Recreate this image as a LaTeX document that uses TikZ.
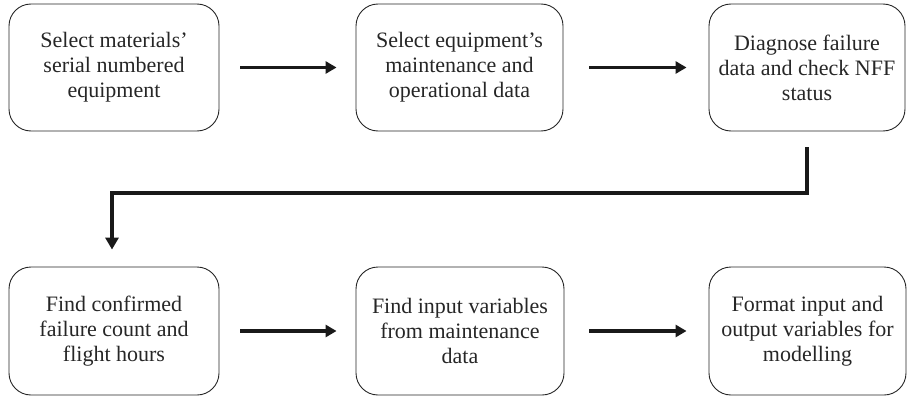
\documentclass[tikz,border=0pt]{standalone}
\usepackage{fontspec}
\setmainfont{Liberation Serif}
\usetikzlibrary{arrows.meta}
\begin{document}
\begin{tikzpicture}[x=1pt,y=-1pt,
  box/.style={draw=black!85, line width=0.9pt, rounded corners=22pt, align=center,
    minimum height=127pt, inner sep=0pt,
    font=\fontsize{22pt}{25pt}\selectfont, text=black!85},
  flow/.style={line width=3.2pt, draw=black!90, -{Triangle[length=11pt,width=12pt]}},
  conn/.style={line width=3.6pt, draw=black!90, -{Triangle[length=12pt,width=13pt]}}]
\useasboundingbox (0,0) rectangle (907,396);
\node[box, minimum width=210pt] (b1) at (114,67.5) {Select materials'\\serial numbered\\equipment};
\node[box, minimum width=207pt] (b2) at (459.5,67.5) {Select equipment's\\maintenance and\\operational data};
\node[box, minimum width=196pt] (b3) at (807,67.5) {Diagnose failure\\data and check NFF\\status};
\node[box, minimum width=210pt, minimum height=128pt] (b4) at (114,331) {Find confirmed\\failure count and\\flight hours};
\node[box, minimum width=208pt, minimum height=128pt] (b5) at (460,331) {Find input variables\\from maintenance\\data};
\node[box, minimum width=197pt, minimum height=128pt] (b6) at (807.5,331) {Format input and\\output variables for\\modelling};
\draw[flow] ([xshift=21pt]b1.east) -- ([xshift=-19pt]b2.west);
\draw[flow] ([xshift=26pt]b2.east) -- ([xshift=-22pt]b3.west);
\draw[flow] ([xshift=21pt]b4.east) -- ([xshift=-19pt]b5.west);
\draw[flow] ([xshift=25pt]b5.east) -- ([xshift=-22pt]b6.west);
\coordinate (mid) at (0,193);
\draw[conn] ([yshift=-16pt]b3.south) -- (b3.south |- mid) -| ([xshift=-2pt,yshift=17pt]b4.north);
\end{tikzpicture}
\end{document}
